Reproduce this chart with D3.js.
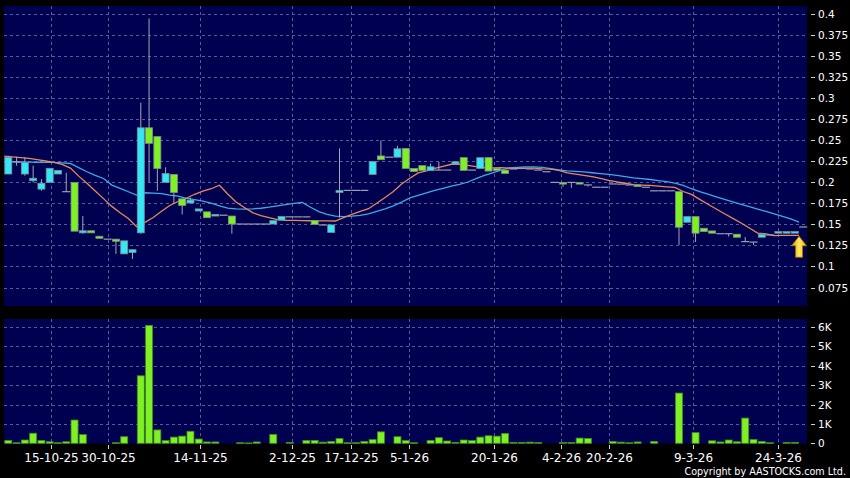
<!DOCTYPE html>
<html><head><meta charset="utf-8">
<script src="https://cdn.jsdelivr.net/npm/d3@7"></script>
<style>html,body{margin:0;padding:0;background:#000;}svg{display:block;}</style>
</head><body>
<script>
// ---------- DATA ----------
const opens  = [0.21,0.2245,0.21,0.202,0.192,0.2,0.21,0.189,0.2,0.14,0.1425,0.136,0.1325,0.1325,0.115,0.1166,0.14,0.265,0.2545,0.2,0.2095,0.1805,0.1755,0.166,0.165,0.16,0.161,0.16,0.1505,0.1505,0.1505,0.1505,0.1505,0.1552,0.159,0.159,0.159,0.1547,0.1494,0.1405,0.188,0.1905,0.1905,0.1905,0.2095,0.2315,0.23,0.23,0.2405,0.2166,0.22,0.214,0.2147,0.2147,0.222,0.2295,0.2147,0.2166,0.2295,0.2168,0.2147,0.216,0.2166,0.216,0.2147,0.2127,0.2,0.2,0.2,0.2,0.197,0.1943,0.1943,0.1982,0.198,0.197,0.197,0.1943,0.19,0.19,0.19,0.189,0.1526,0.1593,0.1455,0.1423,0.139,0.139,0.1384,0.1296,0.129,0.1348,0.1375,0.1396,0.1396,0.1396,0.147];
const highs  = [0.2318,0.2305,0.23,0.22,0.204,0.217,0.2145,0.2115,0.2,0.16,0.1425,0.136,0.1325,0.1325,0.1305,0.12,0.295,0.395,0.2545,0.218,0.2095,0.1805,0.182,0.1685,0.165,0.162,0.161,0.16,0.1505,0.1505,0.1505,0.1505,0.1545,0.1595,0.159,0.159,0.159,0.1547,0.1494,0.1495,0.2405,0.1905,0.1905,0.1905,0.225,0.25,0.23,0.2435,0.2405,0.2166,0.22,0.2226,0.2245,0.2147,0.2246,0.2295,0.2147,0.2294,0.2295,0.2168,0.2147,0.216,0.2166,0.216,0.2147,0.2127,0.2,0.2,0.2,0.2,0.197,0.1943,0.1943,0.1982,0.198,0.197,0.197,0.1943,0.19,0.19,0.19,0.189,0.1593,0.1593,0.1455,0.1423,0.139,0.139,0.1384,0.135,0.129,0.1384,0.1375,0.1415,0.1415,0.1415,0.147];
const lows   = [0.21,0.22,0.208,0.2,0.19,0.2,0.21,0.189,0.142,0.139,0.14,0.1335,0.1325,0.115,0.115,0.109,0.139,0.2,0.19,0.2,0.1756,0.162,0.1755,0.166,0.158,0.16,0.161,0.139,0.1505,0.1505,0.1505,0.1505,0.1505,0.1552,0.159,0.159,0.159,0.15,0.1494,0.1405,0.158,0.1905,0.1905,0.1905,0.2095,0.227,0.23,0.23,0.2167,0.213,0.2143,0.214,0.2147,0.2147,0.222,0.2143,0.2147,0.2166,0.2135,0.214,0.2107,0.216,0.2166,0.216,0.2147,0.2127,0.2,0.195,0.1935,0.198,0.195,0.1943,0.1943,0.1982,0.198,0.197,0.195,0.1943,0.19,0.19,0.19,0.1255,0.1526,0.129,0.1415,0.1396,0.139,0.1356,0.1348,0.1296,0.1255,0.1348,0.1375,0.1396,0.1396,0.1396,0.147];
const closes = [0.23,0.2245,0.2238,0.205,0.199,0.2168,0.2143,0.189,0.142,0.1425,0.14,0.1335,0.1325,0.13,0.1305,0.12,0.265,0.2465,0.2165,0.2105,0.188,0.1725,0.179,0.1685,0.158,0.162,0.161,0.1505,0.1505,0.1505,0.1505,0.1505,0.1545,0.1595,0.159,0.159,0.159,0.15,0.1494,0.1495,0.1905,0.1905,0.1905,0.1905,0.225,0.227,0.23,0.24,0.2167,0.213,0.2143,0.2186,0.2147,0.2147,0.2246,0.2143,0.2147,0.2294,0.2135,0.214,0.2107,0.216,0.2166,0.216,0.2147,0.2127,0.2,0.198,0.2,0.198,0.197,0.1943,0.1943,0.1982,0.198,0.197,0.195,0.1943,0.19,0.19,0.19,0.1467,0.1593,0.1396,0.1415,0.1396,0.139,0.139,0.1348,0.1296,0.129,0.1384,0.1375,0.1415,0.1415,0.1415,0.147];
// volume in thousands of shares
const volumes = [0.15,0.03,0.17,0.52,0.15,0.08,0.03,0.08,1.2,0.45,0,0,0,0.03,0.34,0,3.48,6.08,0.69,0.14,0.32,0.37,0.62,0.22,0.07,0.07,0,0,0.03,0.02,0.07,0,0.46,0,0.05,0,0.15,0.15,0.06,0.1,0.25,0.03,0.03,0.1,0.19,0.59,0,0.34,0.14,0.03,0,0.15,0.29,0.12,0.05,0.17,0.14,0.32,0.39,0.37,0.51,0.05,0.05,0.06,0.04,0,0,0.04,0.04,0.27,0.25,0,0,0.1,0.06,0.03,0.07,0,0.1,0,0,2.59,0,0.55,0,0.13,0.07,0.17,0.08,1.3,0.2,0.1,0.03,0,0.05,0.05,0];
// moving averages (10-day orange, 20-day blue), one point per candle boundary
const ma10 = [0.2313,0.2305,0.2295,0.2285,0.227,0.2255,0.2238,0.2215,0.217,0.2075,0.1989,0.1899,0.1807,0.1715,0.164,0.1571,0.1474,0.1525,0.1583,0.1657,0.1725,0.1773,0.1812,0.1859,0.1897,0.1925,0.1967,0.1863,0.1767,0.1701,0.1641,0.1604,0.1582,0.1557,0.1548,0.1549,0.1546,0.1544,0.1543,0.1542,0.1541,0.1581,0.1621,0.1656,0.1687,0.1753,0.1821,0.1892,0.1982,0.2049,0.2113,0.2137,0.2166,0.2191,0.2216,0.2216,0.2203,0.2188,0.2177,0.2174,0.2175,0.2171,0.2168,0.217,0.2171,0.2161,0.2159,0.2144,0.2113,0.2099,0.2083,0.2069,0.2047,0.2025,0.2007,0.199,0.1974,0.1969,0.1965,0.1955,0.1947,0.194,0.1892,0.1857,0.1798,0.1741,0.1684,0.1628,0.1573,0.1518,0.1458,0.1397,0.1389,0.1367,0.1369,0.1369,0.1371];
const ma20 = [0.2246,0.2244,0.2243,0.2242,0.224,0.2239,0.2238,0.2233,0.2225,0.2177,0.2127,0.2085,0.2047,0.1968,0.193,0.1889,0.1849,0.1877,0.1873,0.1866,0.185,0.1837,0.1809,0.1795,0.1778,0.1755,0.1722,0.1695,0.1685,0.1682,0.1686,0.1693,0.1705,0.172,0.1737,0.175,0.1761,0.1705,0.1652,0.162,0.1598,0.1592,0.1598,0.1608,0.1625,0.1655,0.1685,0.172,0.1765,0.1815,0.1845,0.1875,0.1905,0.193,0.1955,0.1978,0.2005,0.2045,0.2085,0.2115,0.2145,0.2172,0.218,0.2186,0.2186,0.2179,0.2165,0.2148,0.2138,0.2132,0.2126,0.2115,0.2105,0.2095,0.2083,0.2068,0.2055,0.2045,0.2035,0.2022,0.2009,0.1993,0.1965,0.1925,0.189,0.186,0.1828,0.1798,0.1768,0.174,0.1712,0.1683,0.1655,0.1625,0.1595,0.1565,0.1528];
// x-axis date labels and where they fall along the candle index
const dateLabels = ["15-10-25","30-10-25","14-11-25","2-12-25","17-12-25","5-1-26","20-1-26","4-2-26","20-2-26","9-3-26","24-3-26"];
const dateIndex  = [5.1,12.1,23.2,34.3,41.4,48.45,58.6,66.7,72.5,82.7,92.9];
const priceTicks = [0.075,0.1,0.125,0.15,0.175,0.2,0.225,0.25,0.275,0.3,0.325,0.35,0.375,0.4];
const priceTickLabels = ["0.075","0.1","0.125","0.15","0.175","0.2","0.225","0.25","0.275","0.3","0.325","0.35","0.375","0.4"];
const volTicks = [0,1,2,3,4,5,6];
const volTickLabels = ["0","1K","2K","3K","4K","5K","6K"];

// ---------- LAYOUT ----------
const W = 850, H = 478;
const plotL = 4, plotR = 807;
const pTop = 6, pBot = 306, vTop = 319, vBot = 443.5;
const FONT = "'DejaVu Sans', Verdana, sans-serif";
const C = {
  panel: "#000050", grid: "#5a5a98", up: "#35e6f4", down: "#7ef023",
  bodyStroke: "#7f8c94", wick: "#a6a6b4", doji: "#a0a0ac",
  ma10: "#e48a5c", ma20: "#3ea8e8", vol: "#7ef023", volStroke: "#3f8a22", text: "#ffffff"
};

const svg = d3.select("body").append("svg").attr("width", W).attr("height", H)
  .style("background", "#000");

const n = closes.length;
const x = d3.scaleLinear().domain([0, n - 1]).range([8.3, 803.2]);
const yP = d3.scaleLinear().domain([0.075, 0.4]).range([287.5, 14.3]);
const yV = d3.scaleLinear().domain([0, 6]).range([443.3, 326.9]);
const bodyW = 7;

// panels
svg.append("rect").attr("x", plotL).attr("y", pTop).attr("width", plotR - plotL).attr("height", pBot - pTop).attr("fill", C.panel);
svg.append("rect").attr("x", plotL).attr("y", vTop).attr("width", plotR - plotL).attr("height", vBot - vTop).attr("fill", C.panel);

// grid
const grid = svg.append("g").attr("stroke", C.grid).attr("stroke-width", 1).attr("stroke-dasharray", "3,3").attr("fill", "none");
priceTicks.forEach(v => {
  const yy = Math.round(yP(v)) + 0.5;
  grid.append("line").attr("x1", plotL).attr("x2", plotR).attr("y1", yy).attr("y2", yy);
});
volTicks.filter(v => v > 0).forEach(v => {
  const yy = Math.round(yV(v)) + 0.5;
  grid.append("line").attr("x1", plotL).attr("x2", plotR).attr("y1", yy).attr("y2", yy);
});
dateIndex.forEach(di => {
  const xx = Math.round(x(di)) + 0.5;
  grid.append("line").attr("x1", xx).attr("x2", xx).attr("y1", pTop).attr("y2", pBot);
  grid.append("line").attr("x1", xx).attr("x2", xx).attr("y1", vTop).attr("y2", vBot);
});

// moving averages
const lineGen = d3.line().x((d, j) => x(j - 0.5)).y(d => yP(d));
svg.append("path").datum(ma20).attr("d", lineGen).attr("fill", "none").attr("stroke", C.ma20).attr("stroke-width", 1.3);
svg.append("path").datum(ma10).attr("d", lineGen).attr("fill", "none").attr("stroke", C.ma10).attr("stroke-width", 1.3);

// candles
const cg = svg.append("g");
closes.forEach((c, i) => {
  const o = opens[i], h = highs[i], l = lows[i];
  const cx = x(i);
  if (h > Math.max(o, c) || l < Math.min(o, c)) {
    cg.append("line").attr("x1", cx).attr("x2", cx).attr("y1", yP(h)).attr("y2", yP(l))
      .attr("stroke", C.wick).attr("stroke-width", 1);
  }
  if (o === c) {
    cg.append("line").attr("x1", cx - 4).attr("x2", cx + 4).attr("y1", yP(c)).attr("y2", yP(c))
      .attr("stroke", C.doji).attr("stroke-width", 1.2);
  } else {
    const top = yP(Math.max(o, c)), bot = yP(Math.min(o, c));
    cg.append("rect").attr("x", cx - bodyW / 2).attr("y", top).attr("width", bodyW).attr("height", Math.max(1, bot - top))
      .attr("fill", c > o ? C.up : C.down).attr("stroke", C.bodyStroke).attr("stroke-width", 0.8);
  }
});

// volume bars
const vg = svg.append("g");
volumes.forEach((v, i) => {
  if (v <= 0) return;
  const top = yV(v);
  vg.append("rect").attr("x", x(i) - bodyW / 2).attr("y", top).attr("width", bodyW)
    .attr("height", Math.max(0.8, yV(0) - top)).attr("fill", C.vol).attr("stroke", C.volStroke).attr("stroke-width", 0.8);
});

// arrow marker at the latest candle
const ax = x(n - 1.5);
const arrowTop = yP(0.1395) + 3, arrowBot = yP(0.1395) + 24;
const arrowPath = d3.path();
arrowPath.moveTo(ax, arrowTop);
arrowPath.lineTo(ax + 7.5, arrowTop + 9.5);
arrowPath.lineTo(ax + 3.5, arrowTop + 9.5);
arrowPath.lineTo(ax + 3.5, arrowBot);
arrowPath.lineTo(ax - 3.5, arrowBot);
arrowPath.lineTo(ax - 3.5, arrowTop + 9.5);
arrowPath.lineTo(ax - 7.5, arrowTop + 9.5);
arrowPath.closePath();
const defs = svg.append("defs");
const grad = defs.append("linearGradient").attr("id", "ag").attr("x1", "0").attr("x2", "1").attr("y1", "0").attr("y2", "0");
grad.append("stop").attr("offset", "0").attr("stop-color", "#d89a00");
grad.append("stop").attr("offset", "0.5").attr("stop-color", "#ffe860");
grad.append("stop").attr("offset", "1").attr("stop-color", "#f0b800");
svg.append("path").attr("d", arrowPath.toString()).attr("fill", "url(#ag)").attr("stroke", "#a86e00").attr("stroke-width", 0.8);

// right axes
const axG = svg.append("g").attr("font-family", FONT).attr("fill", C.text);
priceTicks.forEach((v, k) => {
  const yy = Math.round(yP(v)) + 0.5;
  axG.append("line").attr("x1", 811).attr("x2", 815).attr("y1", yy).attr("y2", yy).attr("stroke", "#d0d0d0");
  axG.append("text").attr("x", 818).attr("y", yy).attr("dy", "0.35em").attr("font-size", 10.5).text(priceTickLabels[k]);
});
volTicks.forEach((v, k) => {
  const yy = Math.round(yV(v)) + 0.5;
  axG.append("line").attr("x1", 811).attr("x2", 815).attr("y1", yy).attr("y2", yy).attr("stroke", "#d0d0d0");
  axG.append("text").attr("x", 818).attr("y", yy).attr("dy", "0.35em").attr("font-size", 10.5).text(volTickLabels[k]);
});

// bottom date axis
dateIndex.forEach((di, k) => {
  const xx = Math.round(x(di)) + 0.5;
  axG.append("line").attr("x1", xx).attr("x2", xx).attr("y1", 445).attr("y2", 449).attr("stroke", "#d0d0d0");
  axG.append("text").attr("x", xx).attr("y", 462).attr("text-anchor", "middle").attr("font-size", 12).text(dateLabels[k]);
});

axG.append("text").attr("x", 846).attr("y", 475).attr("text-anchor", "end").attr("font-size", 9.6)
  .text("Copyright by AASTOCKS.com Ltd.");
</script>
</body></html>
